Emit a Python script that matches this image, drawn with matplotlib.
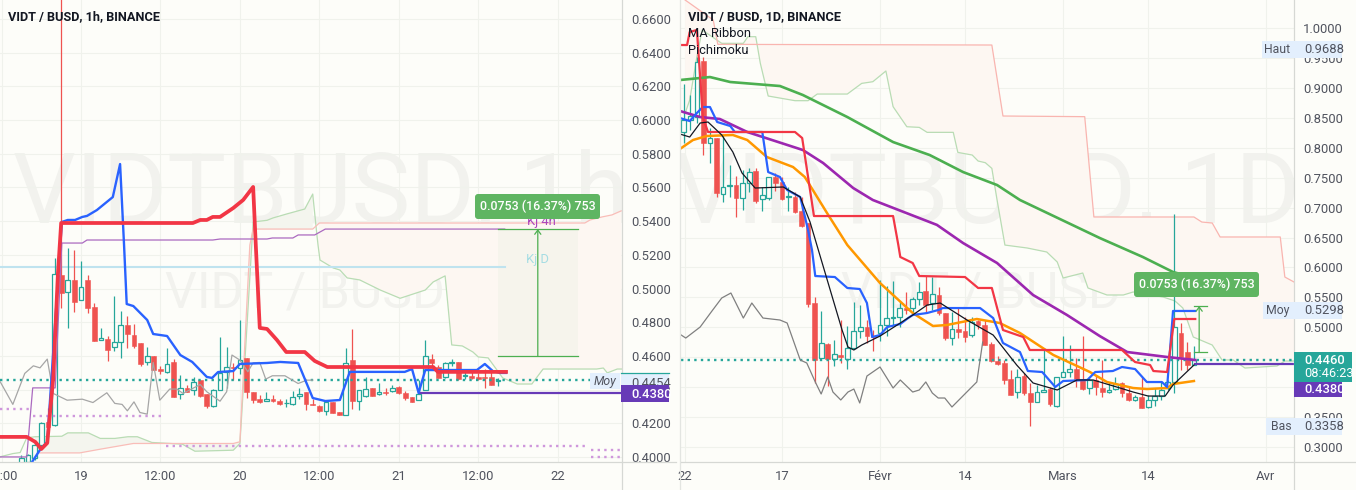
import numpy as np
import matplotlib
matplotlib.use("Agg")
import matplotlib.pyplot as plt
from matplotlib.lines import Line2D
from matplotlib.patches import Rectangle, FancyBboxPatch
from matplotlib.transforms import Affine2D

plt.rcParams['font.family'] = ['Roboto', 'DejaVu Sans']

W, H = 1356, 490
BG = '#fdfdf9'
GRID = '#f0f2ec'
UP = '#26a69a'
DOWN = '#ef5350'
TXT = '#50535e'
TAG = '#e3effd'

# ---- left panel, 1h candles (hours from the 19th 00:00)
h_start = -9
h_open = [.3961,.3971,.3991,.4070,.4209,.4189,.5080,.4981,.5050,.4931,
          .5050,.4888,.4694,.4700,.4650,.4680,.4783,.4723,.4674,.4561,
          .4599,.4521,.4506,.4561,.4373,.4411,.4395,.4454,.4371,.4304,
          .4395,.4502,.4535,.4529,.4585,.4383,.4343,.4333,.4343,.4331,
          .4318,.4312,.4363,.4387,.4314,.4300,.4274,.4327,.4268,.4252,
          .4575,.4333,.4361,.4412,.4371,.4387,.4391,.4414,.4377,.4353,
          .4341,.4397,.4581,.4535,.4472,.4557,.4561,.4478,.4478,.4472,
          .4476,.4472,.4448]
h_high = [.4011,.4019,.4090,.4210,.4288,.5179,.7000,.5238,.5228,.5163,
          .5080,.4912,.4763,.4717,.4955,.4866,.4836,.4787,.4674,.4654,
          .4599,.4541,.4644,.4581,.4486,.4430,.4476,.4456,.4371,.4403,
          .4710,.4650,.4555,.4812,.4585,.4383,.4367,.4387,.4367,.4343,
          .4343,.4393,.4407,.4387,.4343,.4308,.4337,.4327,.4268,.4644,
          .4759,.4395,.4476,.4412,.4442,.4407,.4426,.4420,.4393,.4357,
          .4456,.4694,.4614,.4545,.4565,.4579,.4561,.4505,.4505,.4500,
          .4525,.4525,.4466]
h_low = [.3955,.3955,.3980,.4060,.4179,.4185,.4882,.4767,.4862,.4931,
         .4852,.4690,.4694,.4571,.4630,.4589,.4644,.4644,.4541,.4545,
         .4516,.4490,.4500,.4357,.4343,.4383,.4367,.4357,.4292,.4298,
         .4395,.4407,.4456,.4490,.4351,.4323,.4318,.4333,.4327,.4308,
         .4298,.4308,.4347,.4278,.4308,.4268,.4248,.4258,.4248,.4252,
         .4282,.4278,.4353,.4363,.4367,.4367,.4383,.4373,.4337,.4325,
         .4341,.4397,.4535,.4466,.4468,.4539,.4456,.4462,.4460,.4456,
         .4412,.4426,.4422]
h_close = [.3991,.4011,.4070,.4203,.4179,.5084,.4975,.5050,.4921,.5011,
           .4886,.4690,.4704,.4636,.4680,.4783,.4727,.4660,.4553,.4601,
           .4519,.4513,.4549,.4357,.4411,.4387,.4446,.4361,.4302,.4397,
           .4496,.4535,.4529,.4575,.4383,.4337,.4327,.4343,.4333,.4316,
           .4323,.4357,.4375,.4314,.4310,.4270,.4327,.4262,.4248,.4559,
           .4333,.4395,.4406,.4363,.4383,.4377,.4412,.4377,.4351,.4329,
           .4371,.4602,.4557,.4470,.4555,.4565,.4460,.4486,.4466,.4464,
           .4468,.4430,.4456]

h_blue_x = [-7.4,-6.2,-5.1,-2.9,-2,-.9,.2,.9,2.4,4.8,5.9,6.5,6.9,7.9,10,10.9,13,15,16.8,19,19.8,20.7,23,24,
            28.1,30.1,32.8,35,36.9,39.1,40.6,48.9,50,51,52,53.2,55.3,59.8,61,62.2,63.3,64.2]
h_blue_y = [.3970,.4042,.4090,.5395,.5407,.5407,.5425,.5431,.5466,.5543,.5739,.5258,.4908,.4896,.4813,.4730,
            .4718,.4605,.4564,.4475,.4469,.4504,.4510,.4552,.4558,.4564,.4558,.4350,.4332,.4338,.4505,.4505,
            .4522,.4380,.4516,.4516,.4516,.4516,.4552,.4510,.4499,.4499]
h_red_x = [-12.2,-8.2,-6.9,-6,-5.1,-4.2,-3.5,-3,16.9,18,19,19.9,21,23,24.5,26,26.4,27,28.1,29.6,31,33.8,35.3,37.2,39.1,53.2,53.9,64.2]
h_red_y = [.4119,.4119,.4089,.4047,.4083,.4469,.5080,.5389,.5389,.5407,.5407,.5425,.5425,.5478,.5526,.5603,
           .5258,.4766,.4760,.4694,.4623,.4623,.4570,.4534,.4534,.4534,.4505,.4505]
h_kj4_x = [-12.2,-8.2,-7.3,-3.9,-2.9,.2,.9,19.9,21,28.1,28.9,32,32.8,35.3,36.9,64]
h_kj4_y = [.4000,.4000,.4410,.4410,.5270,.5270,.5288,.5288,.5294,.5294,.5300,.5300,.5318,.5318,.5353,.5353]
h_lag_x = [-12.2,-10.3,-8.5,-7.2,-6.2,-5.1,-4.2,-2.1,.2,1.8,3.9,5.1,6.2,7,8,8.9,10,10.9,11.9,13.4,14.5,15.4,
           18,19,21,22,22.8,24,25.2,26,27,27.9,28.9,30.8,32.8,34.1,35]
h_lag_y = [.4446,.4312,.4496,.4541,.4529,.4581,.4377,.4337,.4343,.4323,.4381,.4318,.4312,.4274,.4327,.4264,
           .4254,.4561,.4337,.4403,.4403,.4377,.4430,.4387,.4331,.4387,.4605,.4575,.4506,.4559,.4561,.4462,
           .4482,.4482,.4436,.4456,.4456]
h_spana_x = [-12.2,-10.3,-9.2,-8.2,-6.9,-2.9,-2,1.1,2.9,5.1,7.1,8.5,10.7,15.3,17.2,23,24,24.3,26,28.1,29,31.1,33.8,35,35.6,
             35.8,36.1,38.1,39.1,40.2,42.1,45.2,48.2,52,53.2,55,56,57.6,59.2,60,61.5,63.7,65.9,68.1,69.8,77.9,78.9,79.5,81,81.7]
h_spana_y = [.4001,.4020,.4026,.4114,.4120,.4123,.4143,.4143,.4110,.4110,.4120,.4120,.4086,.4076,.4034,.4040,.4080,.4268,
             .5395,.5405,.5419,.5443,.5472,.5561,.5330,.5258,.5169,.5122,.5110,.5063,.5051,.4991,.4942,.4991,.5039,.5075,
             .4665,.4659,.4623,.4594,.4588,.4469,.4433,.4433,.4522,.4522,.4528,.4499,.4522,.4522]
h_spanb_x = [-7.3,-.2,2.9,7.9,23,24,25.5,26,35,36,76.1,76.9,78.7,80.2,81.6]
h_spanb_y = [.4024,.4024,.4046,.4080,.4080,.4090,.5258,.5353,.5353,.5389,.5389,.5407,.5425,.5437,.5461]

h_ticks = [-12,0,12,24,36,48,60,72]
h_tick_labels = ['12:00','19','12:00','20','12:00','21','12:00','22']
h_price_ticks = [.66,.64,.62,.60,.58,.56,.54,.52,.50,.48,.46,.44,.42,.40]

# ---- right panel, daily candles (days from 1 Feb)
d_start = -30
d_open = [.8268,.8463,.8519,.9449,.8084,.8162,.7221,.7354,.7377,.7159,
          .7404,.7605,.7137,.7154,.7505,.7432,.7171,.7182,.6942,.6748,
          .5400,.4492,.4720,.4475,.4531,.4475,.4648,.4932,.4999,.4860,
          .4899,.5038,.5161,.5166,.5317,.5328,.5467,.5606,.5400,.5534,
          .5233,.4827,.4971,.4943,.4866,.5099,.5033,.4721,.4431,.4398,
          .4130,.3913,.4186,.3896,.3757,.3913,.3963,.3685,.4175,.4258,
          .4297,.4130,.3980,.4119,.3980,.3913,.3969,.4069,.3897,.3791,
          .3830,.3663,.3785,.3846,.3980,.4091,.4910,.4587,.4375]
d_high = [.9059,.8881,.9521,.9521,.8324,.8162,.8212,.7711,.7533,.7627,
          .7655,.7655,.7349,.7516,.7572,.7516,.7338,.7265,.7182,.6748,
          .5511,.5272,.4732,.4787,.5121,.5021,.5417,.5372,.5121,.4954,
          .5790,.5690,.5773,.5428,.5584,.5512,.5751,.5863,.5835,.5679,
          .5233,.5261,.5317,.5177,.5177,.5122,.5122,.4760,.4526,.4453,
          .4286,.4303,.4231,.4063,.4036,.4648,.4008,.4175,.4854,.4704,
          .4481,.4854,.4175,.4203,.4454,.4092,.4175,.4092,.4019,.3869,
          .4164,.3869,.3980,.4092,.4119,.6887,.5067,.4749,.4687]
d_low = [.8073,.8296,.8407,.7878,.7739,.7171,.7098,.7182,.6847,.6959,
         .7265,.7070,.6948,.7126,.7282,.7126,.6948,.6903,.6680,.5333,
         .4063,.4481,.4024,.4358,.4409,.4308,.4637,.4815,.4732,.4604,
         .4776,.4860,.5038,.5010,.5216,.5233,.5372,.5261,.5289,.5205,
         .4788,.4704,.4815,.4760,.4843,.4971,.4704,.4425,.4370,.4047,
         .3869,.3824,.3869,.3351,.3757,.3913,.3679,.3673,.4169,.4175,
         .4008,.3952,.3885,.3869,.3841,.3897,.3952,.3830,.3774,.3769,
         .3657,.3646,.3685,.3785,.3952,.3896,.4286,.4286,.4370]
d_close = [.8463,.8530,.9438,.8084,.8156,.7249,.7349,.7371,.7159,.7404,
           .7599,.7115,.7204,.7505,.7416,.7143,.7193,.6926,.6692,.5389,
           .4453,.4732,.4470,.4548,.4498,.4659,.4932,.4999,.4860,.4843,
           .5038,.5150,.5172,.5317,.5289,.5473,.5595,.5372,.5551,.5233,
           .4827,.4966,.4927,.4843,.5094,.5033,.4710,.4431,.4392,.4119,
           .3874,.4175,.3896,.3757,.3913,.3952,.3718,.4175,.4258,.4308,
           .4136,.3963,.4119,.4008,.3913,.3958,.4058,.3897,.3785,.3830,
           .3657,.3780,.3846,.3958,.4086,.5010,.4509,.4375,.4448]

d_ma200_x = [-30.6,-26,-22.9,-15.3,-11.8,-5,2,7.6,12.7,17.9,21.4,33.6,40.2,44.8,48.2]
d_ma200_y = [.9131,.9181,.9098,.9031,.8881,.8513,.8095,.7878,.7594,.7377,.7127,.6492,.6174,.5924,.5824]
d_ma100_x = [-30.6,-27.5,-24.5,-20.3,-11.8,-8.7,-4.1,-1.1,8.7,12.7,17.9,23.4,28.6,33.6,37.8,43.9,48.2]
d_ma100_y = [.8614,.8513,.8480,.8263,.7962,.7745,.7327,.7127,.6711,.6408,.6074,.5540,.5205,.4854,.4587,.4504,.4454]
d_ma50_x = [-30.6,-28.6,-26.5,-22.5,-20.3,-17.3,-13.3,-11.5,-8.1,-5,0,5,8.1,10.2,14.8,18.3,21.4,26.5,32.1,34.7,38.7,40.8,43.9,44.8,48]
d_ma50_y = [.7979,.8129,.8196,.8213,.8129,.7845,.7678,.7511,.6909,.6375,.5740,.5239,.5022,.5038,.5139,.5072,.4905,.4538,.4253,.4086,.3986,.3969,.3986,.4053,.4103]
d_blue_x = [-30.6,-29.1,-28,-27.1,-26,-24.9,-22.9,-22.2,-18,-17.1,-15.3,-14.2,-12.2,-11,-10.4,-9.9,-6.9,-5,-3.1,-2,-1.2,0,1.1,3.1,4.3,5,7.2,8.9,9.6,
            15.3,17.3,18.8,21.4,22.6,24.8,26.8,28,31.7,32.9,35.6,37,39,40.8,43.1,43.9,44.7,44.8,48.2]
d_blue_y = [.8497,.8446,.8580,.8680,.8680,.8430,.8363,.8263,.8263,.7594,.7511,.7294,.7177,.6625,.6291,.5857,.5840,.5657,.5640,.5406,.4838,.4871,.5005,.5055,.5155,.5205,.5239,.5289,.5322,
            .5322,.5155,.4738,.4587,.4270,.4253,.4003,.4103,.4120,.4253,.4270,.4337,.4303,.4086,.4086,.4003,.5122,.5273,.5273]
d_red_x = [-30.6,-29.5,-29.1,-28,-27.5,-27.1,-26.3,-13,-11.9,-10.1,2,2.8,3.1,5,6,13,15,17.1,18.8,21.9,22.9,37,39,41.3,41.8,43.9,45,48.2]
d_red_y = [.9716,.9716,.9933,.9967,.9180,.8513,.8263,.8263,.8162,.6859,.6859,.6375,.6175,.6074,.5857,.5840,.5657,.5657,.4955,.4838,.4621,.4621,.4420,.4370,.4270,.4253,.5139,.5139]
d_black_x = [-30.6,-29.1,-27.5,-26.3,-24.2,-22.5,-21.1,-19.1,-14.8,-12.2,-10.7,-5.8,-4.9,-4,-2.8,0,3.1,5,7.2,9.2,13.3,17.3,20.9,23.4,27.1,30.1,32.6,36.7,38.7,41,43.6,44.8,48]
d_black_y = [.8229,.8179,.8413,.8430,.8213,.7928,.7578,.7327,.7344,.7177,.6759,.4955,.4671,.4621,.4704,.4854,.5072,.5205,.5372,.5406,.5122,.4871,.4370,.4070,.3953,.4120,.4120,.3986,.3919,.3852,.3852,.4036,.4370]
d_lag_x = [-30.4,-29.7,-27.5,-25.7,-24.2,-22.8,-20.9,-19.6,-17.9,-15.3,-14.2,-12.2,-11.2,-9.9,-9,-8,-7.2,-6,-4.9,-4,-3.1,-2,0,2,3.1,5,6,7,8,8.9,9.9,11,14.8,15.7]
d_lag_y = [.4871,.4821,.5005,.5272,.5490,.5573,.5155,.5406,.5155,.5122,.5072,.4454,.4404,.4087,.3886,.4170,.3919,.3786,.3919,.3969,.3736,.4186,.4337,.3986,.4120,.3919,.3953,.4087,.3902,.3819,.3819,.3669,.4087,.4754]
d_spana_x = [-29.8,-29.1,-28,-27.2,-24.2,-20.9,-20.2,-19,-18.3,-17.1,-13,-11,-9.6,-5,-2.8,-1.1,.9,2,4.1,6,7.2,11.2,11.9,14.1,15,16.1,17.1,17.9,19.1,
             22.5,25.5,27.1,28,31,31.8,34.7,37.2,38.7,43.3,45.1,46.3,47.9,50.8,52.3,54,55.8,60.7,61.9,63.3]
d_spana_y = [.8574,.8797,.9521,.9967,.9744,.9744,.9855,.9855,.9410,.8864,.8786,.8786,.8897,.8897,.9075,.9103,.9282,.8686,.8351,.8340,.8257,.8257,.7922,.7878,.7778,.7750,.7655,.7126,.6374,
             .6325,.6258,.6091,.5824,.5907,.5657,.5540,.5540,.5590,.5506,.5440,.5323,.4838,.4704,.4454,.4454,.4320,.4354,.4437,.4437]
d_spanb_x = [-29.8,-25.5,-24.8,17.1,18.8,31.3,32.7,48,49.2,50.8,52,61.2,61.9,63.3]
d_spanb_y = [1.0468,1.0134,.9727,.9716,.8530,.8519,.6843,.6843,.6759,.6742,.6509,.6509,.5840,.5757]

d_ticks = [-29.8,-15,0,13,28,41,59]
d_tick_labels = ['22','17','Févr','14','Mars','14','Avr']
d_price_ticks = [1.0,.95,.90,.85,.80,.75,.70,.65,.60,.55,.50,.45,.40,.35,.30]


def candles(ax, start, o, hi, lo, c, width):
    o, hi, lo, c = map(np.array, (o, hi, lo, c))
    x = start + np.arange(len(o))
    up = c >= o
    col = np.where(up, UP, DOWN)
    ax.vlines(x, lo, hi, colors=col, lw=0.9, zorder=2)
    ax.bar(x[up], (c - o)[up], bottom=o[up], width=width, facecolor=BG, edgecolor=UP, lw=0.9, zorder=2.1)
    ax.bar(x[~up], (o - c)[~up], bottom=c[~up], width=width, facecolor=DOWN, edgecolor=DOWN, lw=0.4, zorder=2.1)


def dotted(ax, x0, x1, y, color):
    ax.plot([x0, x1], [y, y], color=color, lw=1.7, ls=(0, (1, 1.8)), zorder=2.5)


def setup(ax, xlim, ylim, xt, xl, yt, fmt='%.4f'):
    ax.set_facecolor(BG)
    ax.set_xlim(*xlim)
    ax.set_ylim(*ylim)
    ax.set_xticks(xt)
    ax.set_xticklabels(xl)
    ax.set_yticks(yt)
    ax.set_yticklabels([fmt % v for v in yt])
    ax.yaxis.tick_right()
    ax.tick_params(axis='both', length=0, labelsize=9.4, labelcolor=TXT)
    ax.tick_params(axis='x', pad=6)
    ax.tick_params(axis='y', pad=6.5)
    ax.grid(True, color=GRID, lw=0.8)
    ax.set_axisbelow(True)
    for s in ax.spines.values():
        s.set_visible(False)


fig = plt.figure(figsize=(W / 100, H / 100), dpi=100, facecolor=BG)
# pixel coordinates for the price tags and other chart furniture
px = Affine2D().scale(1 / W, -1 / H).translate(0, 1) + fig.transFigure


def pane(x0, x1, y1):
    return fig.add_axes([x0 / W, 1 - y1 / H, (x1 - x0) / W, y1 / H])


def box(x0, y0, x1, y1, color, round_it=False, z=6):
    if round_it:
        p = FancyBboxPatch((x0, y0), x1 - x0, y1 - y0, boxstyle='round,pad=0,rounding_size=3',
                           fc=color, ec='none', transform=px, zorder=z)
    else:
        p = Rectangle((x0, y0), x1 - x0, y1 - y0, fc=color, ec='none', transform=px, zorder=z)
    fig.add_artist(p)


def label(x, y, s, color=TXT, ha='left', size=9.4, weight='normal', style='normal', z=7):
    fig.text(x / W, 1 - y / H, s, color=color, ha=ha, va='center', fontsize=size,
             fontweight=weight, fontstyle=style, zorder=z)


def rule(x0, y0, x1, y1, color='#d6d8d4', lw=0.9, z=5):
    fig.add_artist(Line2D([x0, x1], [y0, y1], color=color, lw=lw, transform=px, zorder=z))


# ---------- left chart
ax1 = pane(0, 622, 462)
setup(ax1, (-12.24, 81.72), (.3970, .6713), h_ticks, h_tick_labels, h_price_ticks)
ax1.text(.515, .578, 'VIDTBUSD, 1h', transform=ax1.transAxes, ha='center', va='center',
         fontsize=71, color='#f2f2ee', zorder=0.5, clip_on=True)
ax1.text(.49, .365, 'VIDT / BUSD', transform=ax1.transAxes, ha='center', va='center',
         fontsize=36, color='#f2f2ee', zorder=0.5, clip_on=True)

sax, say = np.array(h_spana_x), np.array(h_spana_y)
sbx, sby = np.array(h_spanb_x), np.array(h_spanb_y)
a1, b1 = sax <= 35, sbx <= 35
ax1.fill(np.r_[sax[a1 & (sax >= -6.9)], sbx[b1][::-1]], np.r_[say[a1 & (sax >= -6.9)], sby[b1][::-1]],
         color='#f4f5ee', lw=0, zorder=1)
a2, b2 = sax >= 35.8, sbx >= 36
ax1.fill(np.r_[sax[a2], sbx[b2][::-1]], np.r_[say[a2], sby[b2][::-1]], color='#fdf7f2', lw=0, zorder=1)
ax1.plot(h_spana_x, h_spana_y, color='#b9dcb4', lw=0.9, zorder=1.5)
ax1.plot(h_spanb_x, h_spanb_y, color='#f9bdb8', lw=0.9, zorder=1.5)

# measure tool shading
ax1.add_patch(Rectangle((63, .4600), 12, .0753, fc='#4caf50', alpha=0.035, lw=0, zorder=1.2))

ax1.plot([-12.24, 64], [.5128, .5128], color='#bfe3ef', lw=1.5, zorder=1.6)
dotted(ax1, -12.24, 81.72, .4457, UP)
dotted(ax1, -12.24, -7.5, .4285, '#cf97dc')
dotted(ax1, -7.3, 12.3, .4243, '#cf97dc')
dotted(ax1, 12.9, 76.4, .4065, '#cf97dc')
dotted(ax1, 77, 81.72, .4041, '#cf97dc')
dotted(ax1, 77, 81.72, .4000, '#cf97dc')

candles(ax1, h_start, h_open, h_high, h_low, h_close, 0.72)

ax1.plot(h_lag_x, h_lag_y, color='#a6a6a6', lw=0.9, zorder=3)
ax1.plot(h_kj4_x, h_kj4_y, color='#ab6ac0', lw=0.9, zorder=3)
ax1.plot([51, 81.72], [.4380, .4380], color='#673ab7', lw=1.6, zorder=3)
ax1.plot(h_blue_x, h_blue_y, color='#2962ff', lw=1.7, zorder=4)
ax1.plot(h_red_x, h_red_y, color='#f23645', lw=2.7, zorder=4.2)

ax1.plot([63, 75], [.5353, .5353], color='#4caf50', lw=0.9, zorder=4.5)
ax1.plot([63, 75], [.4600, .4600], color='#4caf50', lw=0.9, zorder=4.5)
ax1.annotate('', xy=(69, .5353), xytext=(69, .4600),
             arrowprops=dict(arrowstyle='->,head_width=0.22,head_length=0.3', color='#4caf50', lw=0.9,
                             shrinkA=0, shrinkB=0), zorder=4.5)
ax1.text(68.9, .5175, 'Kj D', color='#a6dde3', ha='center', va='center', fontsize=9.4, zorder=4.4)
ax1.text(69.6, .5395, 'Kj 4h', color='#ab47bc', ha='center', va='center', fontsize=9.4, zorder=4.4)

# ---------- right chart
ax2 = pane(681, 1294, 462)
setup(ax2, (-30.43, 63.3), (.2750, 1.0468), d_ticks, d_tick_labels, d_price_ticks)
ax2.text(.5, .578, 'VIDTBUSD, 1D', transform=ax2.transAxes, ha='center', va='center',
         fontsize=71, color='#f2f2ee', zorder=0.5, clip_on=True)
ax2.text(.49, .365, 'VIDT / BUSD', transform=ax2.transAxes, ha='center', va='center',
         fontsize=36, color='#f2f2ee', zorder=0.5, clip_on=True)

ax2.fill(np.r_[d_spana_x, d_spanb_x[::-1]], np.r_[d_spana_y, d_spanb_y[::-1]], color='#fdf7f2', lw=0, zorder=1)
ax2.plot(d_spana_x, d_spana_y, color='#b9dcb4', lw=0.9, zorder=1.5)
ax2.plot(d_spanb_x, d_spanb_y, color='#f9b5b0', lw=0.9, zorder=1.5)

dotted(ax2, -30.43, 63.3, .4454, UP)
candles(ax2, d_start, d_open, d_high, d_low, d_close, 0.72)

ax2.plot(d_lag_x, d_lag_y, color='#808080', lw=0.9, zorder=3)
ax2.plot([48.2, 63.3], [.4380, .4380], color='#673ab7', lw=1.6, zorder=3)
ax2.plot(d_ma200_x, d_ma200_y, color='#4caf50', lw=1.9, zorder=3.5)
ax2.plot(d_ma100_x, d_ma100_y, color='#9c27b0', lw=1.9, zorder=3.6)
ax2.plot(d_ma50_x, d_ma50_y, color='#ff9800', lw=1.8, zorder=3.7)
ax2.plot(d_blue_x, d_blue_y, color='#2962ff', lw=1.6, zorder=3.8)
ax2.plot(d_red_x, d_red_y, color='#f23645', lw=1.6, zorder=3.9)
ax2.plot(d_black_x, d_black_y, color='#131722', lw=0.9, zorder=4)

ax2.plot([48, 50], [.4587, .4587], color='#4caf50', lw=0.9, zorder=4.5)
ax2.plot([48, 50], [.5356, .5356], color='#4caf50', lw=0.9, zorder=4.5)
ax2.annotate('', xy=(48.8, .5356), xytext=(48.8, .4587),
             arrowprops=dict(arrowstyle='->,head_width=0.22,head_length=0.3', color='#4caf50', lw=0.9,
                             shrinkA=0, shrinkB=0), zorder=4.5)

# ---------- frames
rule(0, 462, 676, 462)
rule(622, 0, 622, 490)
rule(680, 0, 680, 490, color='#e3e5e1')
rule(681, 462, 1356, 462)
rule(1294, 0, 1294, 490)

# ---------- titles
label(8, 17, 'VIDT / BUSD, 1h, BINANCE', color='#131722', size=9.2, weight='bold')
label(688, 17, 'VIDT / BUSD, 1D, BINANCE', color='#131722', size=9.2, weight='bold')
label(688, 33.5, 'MA Ribbon', color='#131722', size=9.3)
label(688, 50.5, 'Pichimoku', color='#131722', size=9.3)

# ---------- measure labels
for x0, x1, y0, y1 in [(475, 600, 194, 219), (1134, 1259, 272, 297)]:
    box(x0, y0, x1, y1, '#5fb562', round_it=True)
    label((x0 + x1) / 2, (y0 + y1) / 2, '0.0753 (16.37%) 753', color='white', ha='center', size=8.9, weight='medium')

# ---------- price tags left
box(621, 373, 669, 385, TAG, z=5.5)
label(631, 383, '0.4454', z=5.8)
rule(621, 372.5, 669, 372.5, color=UP, z=6)
box(590, 373, 620, 389, TAG)
label(605, 381, 'Moy', ha='center', style='italic', size=8.8)
box(621, 385, 669, 402, '#673ab7')
label(631, 394, '0.4380', color='white', weight='medium')

# ---------- price tags right
for x0, y0, name, val in [(1262, 41, 'Haut', '0.9688'), (1263, 302, 'Moy', '0.5298'), (1266, 418, 'Bas', '0.3358')]:
    box(x0, y0, 1342, y0 + 17, TAG)
    label(x0 + 15, y0 + 8.5, name, ha='center', size=8.8)
    label(1304, y0 + 8.5, val)
box(1294, 352, 1352, 382, UP)
label(1304, 360.5, '0.4460', color='white', weight='medium')
label(1304, 373.5, '08:46:23', color='white', size=9.2)
box(1294, 382, 1342, 397, '#673ab7')
label(1304, 389.5, '0.4380', color='white', weight='medium')

fig.savefig('out.png', dpi=100, facecolor=BG)
